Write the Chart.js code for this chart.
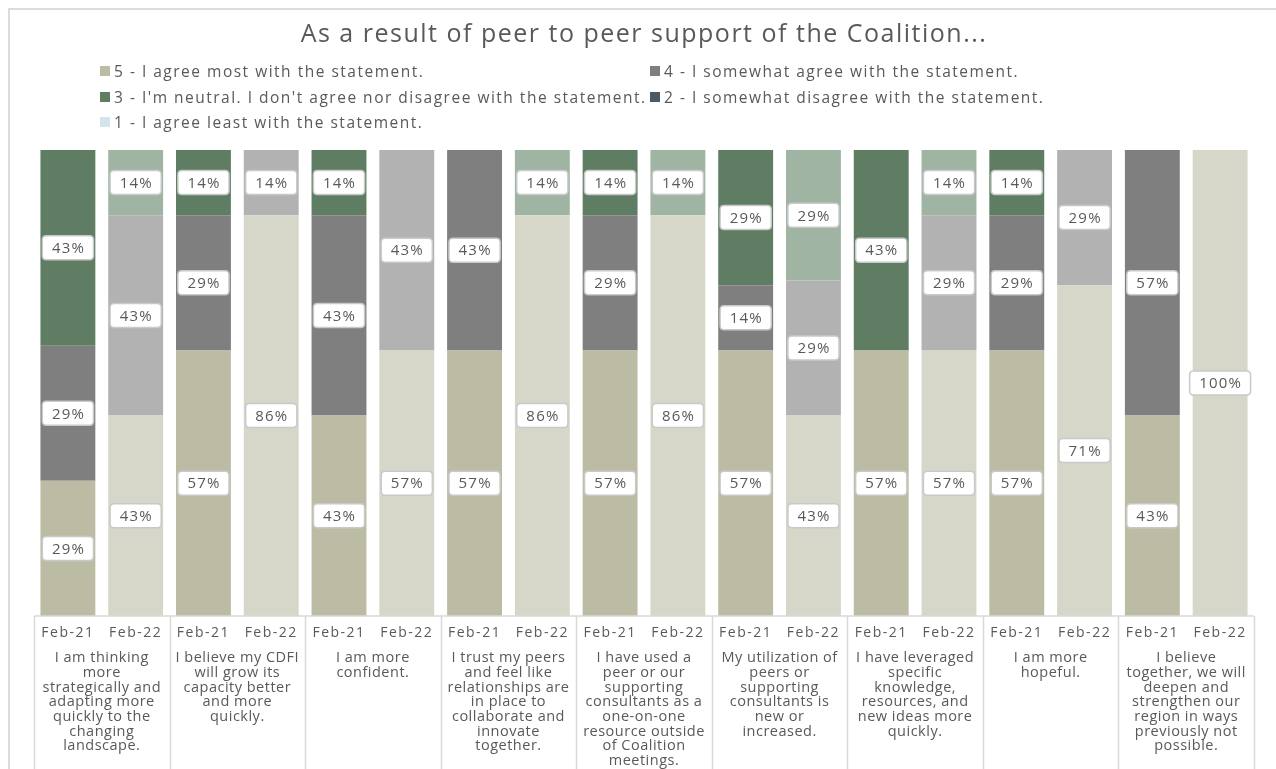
<!DOCTYPE html>
<html>
<head>
<meta charset="utf-8">
<script src="https://cdn.jsdelivr.net/npm/chart.js@4.4.1/dist/chart.umd.min.js"></script>
<style>
  html, body { margin: 0; padding: 0; background: #fff; }
  body { width: 1276px; height: 769px; position: relative; overflow: hidden; font-family: 'Open Sans', sans-serif; }
  #frame { position: absolute; left: 8px; top: 8px; right: -2px; bottom: -2px; border-top: 2px solid #dcdcdc; border-left: 2px solid #dcdcdc; }
  #wrap { position: absolute; left: 0; top: 0; width: 1276px; height: 769px; }
  #legend { position: absolute; left: 0; top: 0; }
  .item { position: absolute; display: flex; align-items: center; font-size: 15.5px; letter-spacing: 1.5px; color: #595959; white-space: nowrap; height: 20px; }
  .swatch { width: 10px; height: 10px; margin-right: 4px; }
</style>
</head>
<body>
<div id="frame"></div>
<div id="wrap"><canvas id="chart"></canvas></div>
<div id="legend"></div>
<script>
// Survey statements, pre-wrapped the way they sit under each pair of bars
const statements = [
    ['I am thinking', 'more', 'strategically and', 'adapting more', 'quickly to the', 'changing', 'landscape.'],
    ['I believe my CDFI', 'will grow its', 'capacity better', 'and more', 'quickly.'],
    ['I am more', 'confident.'],
    ['I trust my peers', 'and feel like', 'relationships are', 'in place to', 'collaborate and', 'innovate', 'together.'],
    ['I have used a', 'peer or our', 'supporting', 'consultants as a', 'one-on-one', 'resource outside', 'of Coalition', 'meetings.'],
    ['My utilization of', 'peers or', 'supporting', 'consultants is', 'new or', 'increased.'],
    ['I have leveraged', 'specific', 'knowledge,', 'resources, and', 'new ideas more', 'quickly.'],
    ['I am more', 'hopeful.'],
    ['I believe', 'together, we will', 'deepen and', 'strengthen our', 'region in ways', 'previously not', 'possible.']
];
const periods = ['Feb-21', 'Feb-22'];

const seriesNames = [
    '5 - I agree most with the statement.',
    '4 - I somewhat agree with the statement.',
    "3 - I'm neutral. I don't agree nor disagree with the statement.",
    '2 - I somewhat disagree with the statement.',
    '1 - I agree least with the statement.'
];

// percent of respondents, two bars (Feb-21, Feb-22) per statement
const agreeMost     = [29, 43, 57, 86, 43, 57, 57, 86, 57, 86, 57, 43, 57, 57, 57, 71, 43, 100];
const somewhatAgree = [29, 43, 29, 14, 43, 43, 43, 0, 29, 0, 14, 29, 0, 29, 29, 29, 57, 0];
const neutral       = [43, 14, 14, 0, 14, 0, 0, 14, 14, 14, 29, 29, 43, 14, 14, 0, 0, 0];
const somewhatDis   = [0, 0, 0, 0, 0, 0, 0, 0, 0, 0, 0, 0, 0, 0, 0, 0, 0, 0];
const agreeLeast    = [0, 0, 0, 0, 0, 0, 0, 0, 0, 0, 0, 0, 0, 0, 0, 0, 0, 0];

// dark shade for Feb-21, light shade for Feb-22
const shades = [
    ['#bcbca4', '#d6d7c9'],
    ['#7f7f7f', '#b2b2b2'],
    ['#5f7d63', '#9fb4a2'],
    ['#4e5a63', '#8c969e'],
    ['#d3e4ec', '#e6f0f4']
];

const labels = [];
statements.forEach(() => periods.forEach(p => labels.push(p)));

const seriesData = [agreeMost, somewhatAgree, neutral, somewhatDis, agreeLeast];

const datasets = seriesData.map((values, i) => ({
    label: seriesNames[i],
    data: values,
    backgroundColor: ctx => shades[i][ctx.dataIndex % 2],
    borderWidth: 0,
    barPercentage: 0.81,
    categoryPercentage: 1
}));

// Build the two-column legend
const legendPos = [[100, 71], [650, 71], [100, 97], [650, 97], [100, 122]];
const legendEl = document.getElementById('legend');
seriesNames.forEach((name, i) => {
    const item = document.createElement('div');
    item.className = 'item';
    item.style.left = legendPos[i][0] + 'px';
    item.style.top = (legendPos[i][1] - 10) + 'px';
    const sw = document.createElement('span');
    sw.className = 'swatch';
    sw.style.background = shades[i][0];
    item.appendChild(sw);
    item.appendChild(document.createTextNode(name));
    legendEl.appendChild(item);
});

function roundRect(ctx, x, y, w, h, r) {
    ctx.beginPath();
    ctx.moveTo(x + r, y);
    ctx.lineTo(x + w - r, y);
    ctx.quadraticCurveTo(x + w, y, x + w, y + r);
    ctx.lineTo(x + w, y + h - r);
    ctx.quadraticCurveTo(x + w, y + h, x + w - r, y + h);
    ctx.lineTo(x + r, y + h);
    ctx.quadraticCurveTo(x, y + h, x, y + h - r);
    ctx.lineTo(x, y + r);
    ctx.quadraticCurveTo(x, y, x + r, y);
    ctx.closePath();
}

// Wider tracking for the title and period ticks, reset before the bars
const tracking = {
    id: 'tracking',
    beforeDraw(chart) { chart.ctx.letterSpacing = '1.5px'; },
    beforeDatasetsDraw(chart) { chart.ctx.letterSpacing = '0px'; }
};

// Boxed percentage labels in the middle of each segment
const valueLabels = {
    id: 'valueLabels',
    afterDatasetsDraw(chart) {
        const ctx = chart.ctx;
        const area = chart.chartArea;
        ctx.save();
        ctx.font = '15px "Open Sans"';
        ctx.letterSpacing = '1.2px';
        ctx.textAlign = 'center';
        ctx.textBaseline = 'middle';
        chart.data.datasets.forEach((ds, di) => {
            const meta = chart.getDatasetMeta(di);
            meta.data.forEach((bar, idx) => {
                const v = ds.data[idx];
                if (!v) return;
                const top = Math.max(bar.y, area.top);
                const cy = (top + bar.base) / 2;
                const text = v + '%';
                const w = ctx.measureText(text).width + 18;
                const h = 24;
                roundRect(ctx, bar.x - w / 2, cy - h / 2, w, h, 4);
                ctx.fillStyle = '#ffffff';
                ctx.fill();
                ctx.lineWidth = 1.5;
                ctx.strokeStyle = '#c9c9c9';
                ctx.stroke();
                ctx.fillStyle = '#595959';
                ctx.fillText(text, bar.x + 0.6, cy + 1);
            });
        });
        ctx.restore();
    }
};

// Group boxes and statement text under the period labels
const groupAxis = {
    id: 'groupAxis',
    afterDraw(chart) {
        const ctx = chart.ctx;
        const x = chart.scales.x;
        const area = chart.chartArea;
        const bottom = chart.height;
        const step = x.getPixelForValue(1) - x.getPixelForValue(0);
        ctx.save();
        ctx.strokeStyle = '#d9d9d9';
        ctx.lineWidth = 1.5;
        ctx.beginPath();
        ctx.moveTo(area.left, area.bottom);
        ctx.lineTo(area.right, area.bottom);
        for (let g = 0; g <= statements.length; g++) {
            const px = Math.round(x.getPixelForValue(g * 2) - step / 2) + 0.5;
            ctx.moveTo(px, area.bottom);
            ctx.lineTo(px, bottom);
        }
        ctx.stroke();

        ctx.font = '14.5px "Open Sans"';
        ctx.letterSpacing = '0.5px';
        ctx.fillStyle = '#595959';
        ctx.textAlign = 'center';
        ctx.textBaseline = 'middle';
        statements.forEach((lines, g) => {
            const cx = (x.getPixelForValue(g * 2) + x.getPixelForValue(g * 2 + 1)) / 2;
            lines.forEach((line, li) => {
                ctx.fillText(line, cx, area.bottom + 42 + li * 14.7);
            });
        });
        ctx.restore();
    }
};

new Chart(document.getElementById('chart'), {
    type: 'bar',
    data: { labels: labels, datasets: datasets },
    options: {
        responsive: true,
        maintainAspectRatio: false,
        animation: false,
        layout: { padding: { left: 34, right: 22, top: 0, bottom: 0 } },
        plugins: {
            legend: { display: false },
            tooltip: { enabled: false },
            title: {
                display: true,
                text: 'As a result of peer to peer support of the Coalition...',
                color: '#595959',
                font: { family: 'Open Sans', size: 25, weight: 'normal' },
                padding: { top: 20, bottom: 100 }
            }
        },
        scales: {
            x: {
                stacked: true,
                grid: { display: false },
                border: { display: false },
                ticks: {
                    color: '#595959',
                    font: { family: 'Open Sans', size: 14 },
                    padding: 1,
                    maxRotation: 0,
                    autoSkip: false
                },
                afterFit(scale) { scale.height = 153; }
            },
            y: {
                stacked: true,
                display: false,
                min: 0,
                max: 100
            }
        }
    },
    plugins: [tracking, valueLabels, groupAxis]
});
</script>
</body>
</html>
